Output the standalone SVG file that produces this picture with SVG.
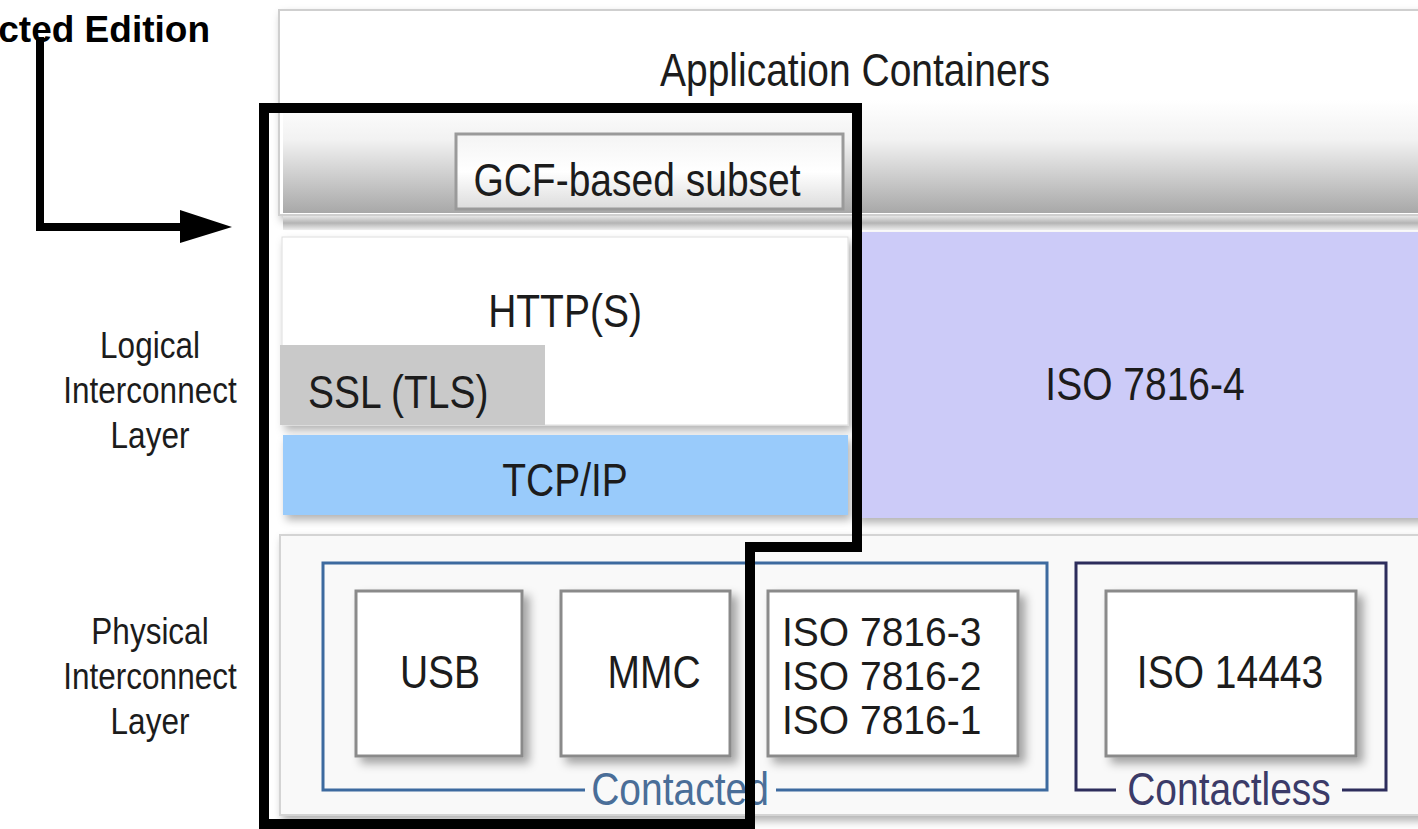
<svg xmlns="http://www.w3.org/2000/svg" width="1418" height="829" viewBox="0 0 1418 829">
<defs>
<style>
.t{font-family:"Liberation Sans",Arial,sans-serif;font-size:39px;fill:#1c1c1c}
.lbl{font-family:"Liberation Sans",Arial,sans-serif;font-size:31.5px;fill:#1c1c1c;text-anchor:middle}
.mid{text-anchor:middle}
.box{fill:#ffffff;stroke:#8a8a8a;stroke-width:3}
.frame{fill:none;stroke:#000;stroke-width:10;stroke-linejoin:miter}
.conn{fill:none;stroke:#000;stroke-width:8}
</style>
<linearGradient id="band" x1="0" y1="0" x2="0" y2="1">
<stop offset="0" stop-color="#ffffff"/>
<stop offset="0.35" stop-color="#f2f2f2"/>
<stop offset="1" stop-color="#a8a8a8"/>
</linearGradient>
<linearGradient id="gcf" x1="0" y1="0" x2="0" y2="1">
<stop offset="0" stop-color="#f4f4f4"/>
<stop offset="0.5" stop-color="#ffffff"/>
<stop offset="1" stop-color="#dcdcdc"/>
</linearGradient>
<linearGradient id="shade" x1="0" y1="0" x2="0" y2="1">
<stop offset="0" stop-color="#e6e6e6"/>
<stop offset="0.5" stop-color="#b4b4b4"/>
<stop offset="1" stop-color="#eeeeee"/>
</linearGradient>
<filter id="sh" x="-10%" y="-10%" width="130%" height="130%">
<feDropShadow dx="6" dy="6" stdDeviation="5" flood-color="#000" flood-opacity="0.35"/>
</filter>
<filter id="sh2" x="-5%" y="-10%" width="110%" height="130%">
<feDropShadow dx="3" dy="5" stdDeviation="4" flood-color="#000" flood-opacity="0.3"/>
</filter>
</defs>
<rect width="1418" height="829" fill="#ffffff"/>

<g id="app-containers">
<rect x="279" y="10" width="1150" height="205" fill="#ffffff" stroke="#cfcfcf" stroke-width="2" filter="url(#sh2)"/>
<rect x="283" y="100" width="1140" height="113" fill="url(#band)"/>
<rect x="283" y="216" width="1140" height="14" fill="url(#shade)"/>
<text class="t mid" font-size="40" transform="translate(855,86) scale(1,1.18)">Application Containers</text>
</g>

<g id="gcf-subset">
<rect x="456" y="134" width="387" height="75" fill="url(#gcf)" stroke="#9a9a9a" stroke-width="3"/>
<text class="t mid" transform="translate(637,196) scale(1,1.18)">GCF-based subset</text>
</g>

<g id="http">
<rect x="282" y="237" width="566" height="188" fill="#ffffff" stroke="#dddddd" stroke-width="1" filter="url(#sh2)"/>
<text class="t mid" transform="translate(565,327) scale(1,1.18)">HTTP(S)</text>
</g>

<g id="ssl">
<rect x="280" y="345" width="265" height="80" fill="#c9c9c9"/>
<text class="t" transform="translate(308,408) scale(1,1.18)">SSL (TLS)</text>
</g>

<g id="tcpip">
<rect x="283" y="435" width="565" height="80" fill="#99cbfb" filter="url(#sh2)"/>
<text class="t mid" transform="translate(565,496) scale(1,1.18)">TCP/IP</text>
</g>

<g id="iso7816-4">
<rect x="855" y="232" width="570" height="286" fill="#cccbf8" filter="url(#sh2)"/>
<text class="t mid" transform="translate(1145,400) scale(1,1.18)">ISO 7816-4</text>
</g>

<g id="logical-label">
<text class="lbl" transform="translate(150,358) scale(1,1.15)">Logical</text>
<text class="lbl" transform="translate(150,403) scale(1,1.15)">Interconnect</text>
<text class="lbl" transform="translate(150,448) scale(1,1.15)">Layer</text>
</g>

<g id="physical-label">
<text class="lbl" transform="translate(150,644) scale(1,1.15)">Physical</text>
<text class="lbl" transform="translate(150,689) scale(1,1.15)">Interconnect</text>
<text class="lbl" transform="translate(150,734) scale(1,1.15)">Layer</text>
</g>

<g id="physical-panel">
<rect x="280" y="535" width="1150" height="280" fill="#f9f9f9" stroke="#d4d4d4" stroke-width="2" filter="url(#sh2)"/>
</g>

<g id="contacted">
<path d="M585,790 H323 V563 H1047 V790 H776" fill="none" stroke="#3d6a9f" stroke-width="3"/>
<text class="t mid" style="fill:#4a6e98" transform="translate(680,805) scale(1,1.18)">Contacted</text>
</g>

<g id="contactless">
<path d="M1116,790 H1076 V563 H1386 V790 H1342" fill="none" stroke="#2d2d5c" stroke-width="3"/>
<text class="t mid" style="fill:#3b3b68" font-size="40" transform="translate(1229,805) scale(1,1.18)">Contactless</text>
</g>

<g id="usb">
<rect class="box" x="356" y="591" width="166" height="165" filter="url(#sh)"/>
<text class="t mid" transform="translate(440,688) scale(1,1.18)">USB</text>
</g>

<g id="mmc">
<rect class="box" x="561" y="591" width="169" height="165" filter="url(#sh)"/>
<text class="t mid" transform="translate(654,688) scale(1,1.18)">MMC</text>
</g>

<g id="iso7816-123">
<rect class="box" x="768" y="591" width="250" height="165" filter="url(#sh)"/>
<text class="t" transform="translate(782,646) scale(1,1.04)">ISO 7816-3</text>
<text class="t" transform="translate(782,690) scale(1,1.04)">ISO 7816-2</text>
<text class="t" transform="translate(782,734) scale(1,1.04)">ISO 7816-1</text>
</g>

<g id="iso14443">
<rect class="box" x="1106" y="591" width="250" height="165" filter="url(#sh)"/>
<text class="t mid" transform="translate(1230,688) scale(1,1.18)">ISO 14443</text>
</g>

<g id="edition-frame">
<path class="frame" d="M264,108 H857 V547 H750 V824 H264 Z"/>
</g>

<g id="edition-label">
<text x="210" y="42" text-anchor="end" style="font-family:'Liberation Sans',Arial,sans-serif;font-size:37px;font-weight:bold;fill:#000">cted Edition</text>
</g>

<g id="connectors">
<path class="conn" d="M40,37 V227 H185"/>
<polygon points="180,210 232,227 180,243" fill="#000"/>
</g>
</svg>
